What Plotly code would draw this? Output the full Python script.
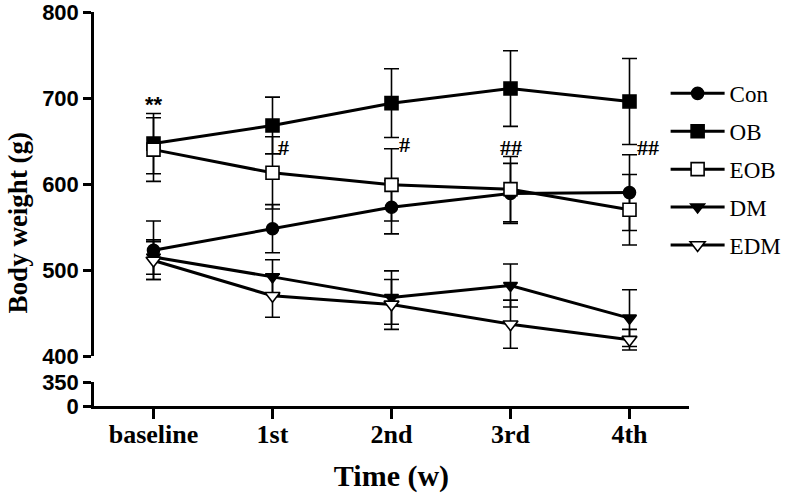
import plotly.graph_objects as go

# ---- data ----
time_points = ["baseline", "1st", "2nd", "3rd", "4th"]

con_mean = [523, 548, 573, 589, 590]
con_sd = [34, 28, 31, 35, 44]

ob_mean = [647, 668, 694, 711, 696]
ob_sd = [35, 33, 40, 44, 50]

eob_mean = [640, 613, 599, 594, 570]
eob_sd = [37, 42, 42, 38, 41]

dm_mean = [515, 492, 468, 482, 444]
dm_sd = [20, 20, 31, 25, 33]

edm_mean = [511, 470, 460, 437, 419]
edm_sd = [22, 25, 29, 28, 12]

sig_labels = ["**", "#", "#", "##", "##"]
sig_y = [693, 643, 646, 642, 642]

main_ticks = [400, 500, 600, 700, 800]
low_ticks = [0, 350]

# ---- figure ----
SERIF = "Liberation Serif"
SANS = "Liberation Sans"
BLACK = "black"

series = [
    ("Con", con_mean, con_sd, "circle", BLACK, 12),
    ("OB", ob_mean, ob_sd, "square", BLACK, 13),
    ("EOB", eob_mean, eob_sd, "square", "white", 13),
    ("DM", dm_mean, dm_sd, "triangle-down", BLACK, 12),
    ("EDM", edm_mean, edm_sd, "triangle-down", "white", 13),
]

fig = go.Figure()
for name, mean, sd, sym, fill, size in series:
    fig.add_trace(go.Scatter(
        x=time_points, y=mean, name=name, legendgroup=name,
        mode="lines+markers",
        line=dict(color=BLACK, width=3),
        marker=dict(symbol=sym, color=fill, size=size,
                    line=dict(color=BLACK, width=1.6)),
        error_y=dict(type="data", array=sd, visible=True,
                     color=BLACK, thickness=1.6, width=7.5),
        xaxis="x", yaxis="y",
    ))

# invisible trace holding the lower (broken) axis segment
fig.add_trace(go.Scatter(x=[time_points[0]], y=[0], xaxis="x", yaxis="y2",
                         mode="markers", marker=dict(opacity=0),
                         showlegend=False, hoverinfo="skip"))

shifts = [0, 11, 13, 0, 18]
for i, (lab, yv) in enumerate(zip(sig_labels, sig_y)):
    fig.add_annotation(
        x=time_points[i], y=yv, xref="x", yref="y", text=lab,
        showarrow=False, xshift=shifts[i],
        font=dict(family=SANS if lab == "**" else SERIF, size=22,
                  color=BLACK, weight="bold"),
    )

W, H = 787, 496
L, R, T, B = 94, 98, 12, 90
ph = H - T - B

fig.add_annotation(
    x=-76 / (W - L - R), y=0.466, xref="paper", yref="paper",
    xanchor="center", yanchor="middle",
    text="Body weight (g)", textangle=-90, showarrow=False,
    font=dict(family=SERIF, size=27, color=BLACK, weight="bold"),
)

tick_common = dict(
    showline=True, linecolor=BLACK, linewidth=2.5,
    ticks="outside", tickwidth=2.5, tickcolor=BLACK,
    showgrid=False, zeroline=False, automargin=False,
    ticklabeloverflow="allow",
)

fig.update_layout(
    width=W, height=H,
    margin=dict(l=L, r=R, t=T, b=B, autoexpand=False),
    plot_bgcolor="white", paper_bgcolor="white",
    showlegend=True,
    legend=dict(
        x=0.9607, y=0.848, xanchor="left", yanchor="top",
        font=dict(family=SERIF, size=23, color=BLACK),
        bgcolor="rgba(0,0,0,0)", traceorder="grouped",
        tracegroupgap=5, itemwidth=54,
    ),
    xaxis=dict(
        type="category", range=[-0.5, 4.5], anchor="y2",
        ticklen=10, ticklabelstandoff=-7,
        tickfont=dict(family=SERIF, size=26, color=BLACK, weight="bold"),
        title=dict(text="Time (w)", standoff=18,
                   font=dict(family=SERIF, size=30, color=BLACK, weight="bold")),
        **tick_common,
    ),
    yaxis=dict(
        domain=[(H - B - 356) / ph, 1], range=[400, 800],
        tickvals=main_ticks, anchor="x", ticklen=8,
        tickfont=dict(family=SANS, size=22, color=BLACK, weight="bold"),
        **tick_common,
    ),
    yaxis2=dict(
        domain=[0, (H - B - 382) / ph], range=[0, 350],
        tickvals=low_ticks, anchor="x", ticklen=8,
        tickfont=dict(family=SANS, size=22, color=BLACK, weight="bold"),
        **tick_common,
    ),
)

fig.write_html("out.html", config={"displayModeBar": False},
               post_script="document.body.style.margin='0px';")
